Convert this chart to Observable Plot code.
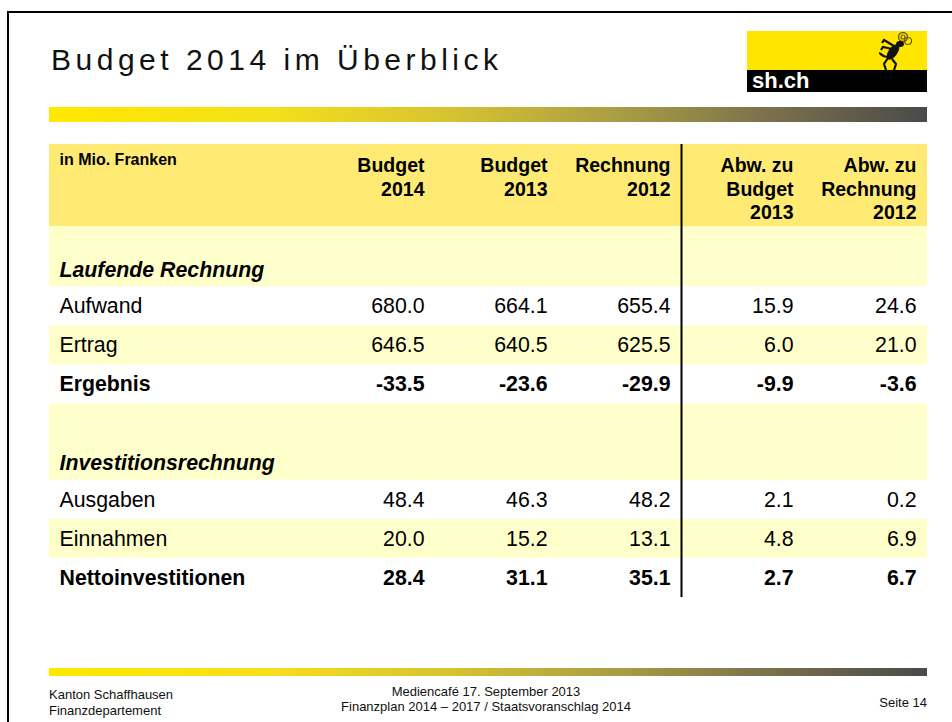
<!DOCTYPE html>
<html><head><meta charset="utf-8">
<script src="https://cdn.jsdelivr.net/npm/d3@7"></script>
<script src="https://cdn.jsdelivr.net/npm/@observablehq/plot@0.6"></script>
<style>
body{margin:0;background:#fff}
#slide{position:relative;width:952px;height:722px;overflow:hidden;background:#fff;font-family:"Liberation Sans",Arial,sans-serif;color:#000}
.abs{position:absolute;white-space:nowrap;line-height:1}
#table{position:absolute;left:0;top:144px}
</style></head><body>
<div id="slide">
  <div class="abs" style="left:7px;top:11px;width:1000px;height:800px;border-left:2px solid #000;border-top:2px solid #000"></div>
  <div class="abs" style="left:51px;top:44.6px;font-size:30px;letter-spacing:4.5px;color:#111">Budget 2014 im Überblick</div>
  <div class="abs" style="left:747px;top:31px;width:180px;height:39px;background:#ffe600"></div>
  <div class="abs" style="left:747px;top:70px;width:180px;height:22px;background:#000"></div>
  <div class="abs" style="left:752px;top:70.4px;font-size:22px;font-weight:bold;color:#fff">sh.ch</div>
  <svg class="abs" style="left:872px;top:31px" width="42" height="40" viewBox="0 0 42 40">
    <circle cx="31" cy="6" r="4.5" fill="none" stroke="#6b5a10" stroke-width="1.4"/>
    <circle cx="31" cy="6" r="2" fill="none" stroke="#6b5a10" stroke-width="1.2"/>
    <circle cx="36" cy="10" r="3.5" fill="none" stroke="#6b5a10" stroke-width="1.2"/>
    <ellipse cx="28" cy="13" rx="4" ry="3" fill="#111"/>
    <ellipse cx="21" cy="21" rx="9" ry="4.5" transform="rotate(-55 21 21)" fill="#111"/>
    <path d="M22 15 L12 9 L10 12 M20 18 L11 16 L9 19" stroke="#111" stroke-width="2.2" fill="none"/>
    <path d="M16 27 L12 33 L14 39 M20 28 L24 33 L22 39 M15 26 C10 26 9 22 7 22" stroke="#111" stroke-width="2.2" fill="none"/>
  </svg>
  <div class="abs" style="left:49px;top:107px;width:878px;height:15px;background:linear-gradient(to right,#ffe800 0%,#f4e01a 25%,#d8c430 45%,#aa9c44 65%,#7a714c 82%,#4a4a4a 100%)"></div>
  <div class="abs" style="left:49px;top:668px;width:878px;height:8px;background:linear-gradient(to right,#ffe800 0%,#f4e01a 25%,#d8c430 45%,#aa9c44 65%,#7a714c 82%,#4a4a4a 100%)"></div>
  <div class="abs" style="left:49px;top:686.7px;font-size:13px;line-height:16px;color:#111">Kanton Schaffhausen<br>Finanzdepartement</div>
  <div class="abs" style="left:286px;width:400px;top:683.7px;font-size:13px;line-height:15px;text-align:center;color:#111">Mediencafé 17. September 2013<br>Finanzplan 2014 – 2017 / Staatsvoranschlag 2014</div>
  <div class="abs" style="right:25px;top:696px;font-size:13px;color:#111">Seite 14</div>
  <div id="table"></div>
</div>
<script>
// ---- data ----
const unitLabel = "in Mio. Franken";
const columnKeys = ["b14", "b13", "r12", "a13", "a12"];
const columnHeaders = ["Budget\n2014", "Budget\n2013", "Rechnung\n2012", "Abw. zu\nBudget\n2013", "Abw. zu\nRechnung\n2012"];
const sections = ["Laufende Rechnung", "Investitionsrechnung"];
const rowLabels = ["Aufwand", "Ertrag", "Ergebnis", "Ausgaben", "Einnahmen", "Nettoinvestitionen"];
const rowSection = [0, 0, 0, 1, 1, 1];
const boldRows = ["Ergebnis", "Nettoinvestitionen"];
const budget2014 = [680.0, 646.5, -33.5, 48.4, 20.0, 28.4];
const budget2013 = [664.1, 640.5, -23.6, 46.3, 15.2, 31.1];
const rechnung2012 = [655.4, 625.5, -29.9, 48.2, 13.1, 35.1];
const abwBudget2013 = [15.9, 6.0, -9.9, 2.1, 4.8, 2.7];
const abwRechnung2012 = [24.6, 21.0, -3.6, 0.2, 6.9, 6.7];

// ---- layout (row heights in row units) ----
const headerUnits = 2.1;
const sectionUnits = [1.54, 1.95];
const rowUnits = 1;

const columns = [budget2014, budget2013, rechnung2012, abwBudget2013, abwRechnung2012];
const header = {y1: 0, y2: headerUnits};
let pos = headerUnits;
const sectionBands = [];
const dataRows = [];
sections.forEach((s, si) => {
  sectionBands.push({label: s, y1: pos, y2: pos + sectionUnits[si]});
  pos += sectionUnits[si];
  let k = 0;
  rowLabels.forEach((lab, i) => {
    if (rowSection[i] !== si) return;
    dataRows.push({label: lab, index: i, y1: pos, y2: pos + rowUnits, shaded: k % 2 === 1, bold: boldRows.includes(lab)});
    pos += rowUnits; k++;
  });
});
const total = pos;
const cells = [];
dataRows.forEach(r => columns.forEach((col, c) => cells.push({
  key: columnKeys[c], y: (r.y1 + r.y2) / 2, text: col[r.index].toFixed(1), bold: r.bold
})));
const headerCells = columnKeys.map((k, i) => ({key: k, text: columnHeaders[i]}));

const chart = Plot.plot({
  width: 952, height: 453,
  marginLeft: 49, marginRight: 25, marginTop: 0, marginBottom: 0,
  style: {background: "transparent", fontFamily: "'Liberation Sans', Arial, sans-serif", color: "#000"},
  x: {type: "point", domain: columnKeys, padding: 0, insetLeft: 373, insetRight: 10, axis: null},
  y: {domain: [0, total], reverse: true, axis: null},
  marks: [
    Plot.rect([header], {y1: "y1", y2: "y2", fill: "#ffeb73"}),
    Plot.rect(sectionBands, {y1: "y1", y2: "y2", fill: "#ffffcc"}),
    Plot.rect(dataRows.filter(d => d.shaded), {y1: "y1", y2: "y2", fill: "#ffffcc"}),
    Plot.ruleX([columnKeys[2]], {x: d => d, dx: 11, stroke: "#000", strokeWidth: 2}),
    Plot.text([unitLabel], {text: d => d, y: () => header.y1, frameAnchor: "left", textAnchor: "start", dx: 10, lineAnchor: "top", dy: 9.6, fontSize: 16, fontWeight: "bold"}),
    Plot.text(headerCells, {x: "key", y: () => header.y1, text: "text", textAnchor: "end", lineAnchor: "top", dy: 11.2, lineHeight: 1.2, fontSize: 19.5, fontWeight: "bold"}),
    Plot.text(sectionBands, {y: "y2", text: "label", frameAnchor: "left", textAnchor: "start", dx: 10, dy: -17, lineAnchor: "middle", fontSize: 21.3, fontWeight: "bold", fontStyle: "italic"}),
    Plot.text(dataRows.filter(d => !d.bold), {y: d => (d.y1 + d.y2) / 2, text: "label", frameAnchor: "left", textAnchor: "start", dx: 10, lineAnchor: "middle", fontSize: 21.3}),
    Plot.text(dataRows.filter(d => d.bold), {y: d => (d.y1 + d.y2) / 2, text: "label", frameAnchor: "left", textAnchor: "start", dx: 10, lineAnchor: "middle", fontSize: 21.3, fontWeight: "bold"}),
    Plot.text(cells.filter(d => !d.bold), {x: "key", y: "y", text: "text", textAnchor: "end", lineAnchor: "middle", fontSize: 21.3}),
    Plot.text(cells.filter(d => d.bold), {x: "key", y: "y", text: "text", textAnchor: "end", lineAnchor: "middle", fontSize: 21.3, fontWeight: "bold"})
  ]
});
document.getElementById("table").appendChild(chart);
</script>
</body></html>
